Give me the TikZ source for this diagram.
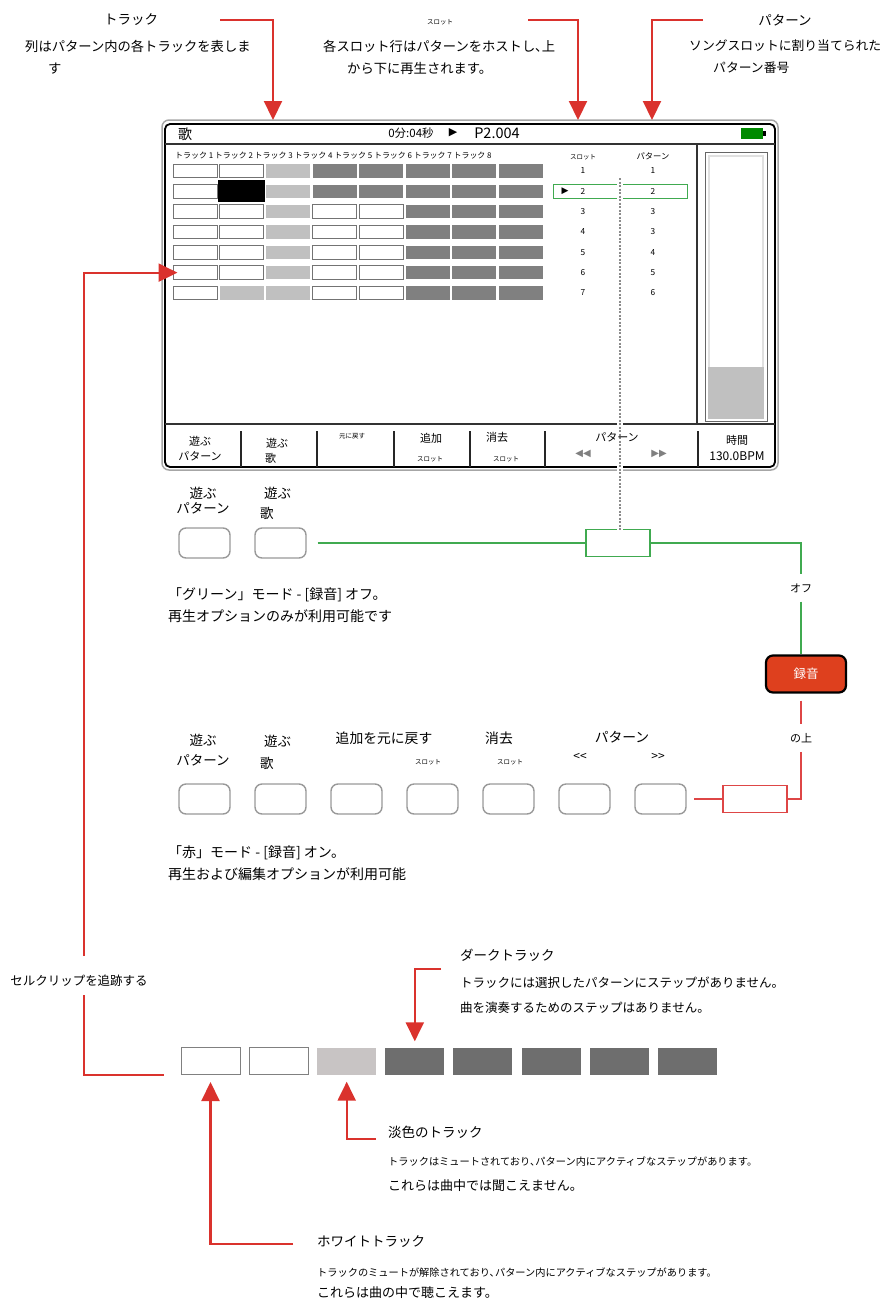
\documentclass[tikz,border=0pt]{standalone}
\usepackage{fontspec}
\setmainfont{Noto Sans CJK JP}
\newfontfamily\symfont{DejaVu Sans}
\definecolor{callred}{RGB}{218,50,45}
\definecolor{boxred}{RGB}{222,70,70}
\definecolor{modegreen}{RGB}{64,170,80}
\definecolor{recfill}{RGB}{222,64,30}
\definecolor{battgreen}{RGB}{0,138,0}
\definecolor{tlight}{RGB}{192,192,192}
\definecolor{tdark}{RGB}{128,128,128}
\definecolor{llight}{RGB}{200,196,196}
\definecolor{ldark}{RGB}{110,110,110}
\usetikzlibrary{arrows.meta,positioning}

\begin{document}
\begin{tikzpicture}[
  x=1pt,y=-1pt,
  every node/.style={inner sep=0pt,font=\fontsize{12.5}{22}\selectfont},
  title/.style={font=\fontsize{13.5}{16}\selectfont},
  note/.style={align=left,anchor=west,font=\fontsize{13.3}{22}\selectfont},
  modenote/.style={align=left,anchor=west,font=\fontsize{14}{22}\selectfont},
  modelbl/.style={font=\fontsize{13.8}{16}\selectfont},
  small/.style={font=\fontsize{10.2}{12}\selectfont},
  tiny/.style={font=\fontsize{6.5}{8}\selectfont},
  keyfont/.style={font=\fontsize{11}{15}\selectfont},
  numfont/.style={font=\fontsize{8.3}{10}\selectfont},
  callout/.style={draw=callred,line width=2.2pt,-{Triangle[width=18pt,length=19pt]}},
  callline/.style={draw=callred,line width=2.2pt},
  gline/.style={draw=modegreen,line width=1.6pt},
  rline/.style={draw=boxred,line width=1.6pt},
  tw/.style={draw=black!55,line width=1pt,fill=white,minimum width=44pt,minimum height=13.5pt},
  tl/.style={fill=tlight,minimum width=44pt,minimum height=13.5pt},
  td/.style={fill=tdark,minimum width=44pt,minimum height=13.5pt},
  tb/.style={fill=black,minimum width=47pt,minimum height=22pt},
  legw/.style={draw=black!50,line width=1pt,fill=white,minimum width=59pt,minimum height=27pt},
  legl/.style={fill=llight,minimum width=59pt,minimum height=27pt},
  legd/.style={fill=ldark,minimum width=59pt,minimum height=27pt},
  modebtn/.style={draw=black!40,line width=1.4pt,rounded corners=7pt,fill=white,
                  minimum width=51pt,minimum height=30pt},
  modebox/.style={line width=1.5pt,fill=white,minimum width=64pt,minimum height=27pt},
  recbtn/.style={draw=black,line width=2.2pt,rounded corners=7pt,fill=recfill,text=white,
                 minimum width=80pt,minimum height=37pt},
]
  \useasboundingbox (0,0) rectangle (886,1302);

  % Top callouts
  \node[title] (lblTrack) at (131,20) {トラック};
  \node[note] (txtTrack) at (25,57) {列はパターン内の各トラックを表しま\\\hspace*{23pt}す};
  \node[tiny] (lblSlot) at (440,22) {スロット};
  \node[note] (txtSlot) at (323,57) {各スロット行はパターンをホストし､上\\\hspace*{24pt}から下に再生されます。};
  \node[title] (lblPat) at (785,20) {パターン};
  \node[note,font=\fontsize{12.8}{22}\selectfont] (txtPat) at (689,57) {ソングスロットに割り当てられた\\\hspace*{24pt}パターン番号};
  \coordinate (trkStart) at (220,20);
  \coordinate (trkTip) at (273,120);
  \coordinate (slotStart) at (528,20);
  \coordinate (slotTip) at (578,120);
  \coordinate (patStart) at (703,20);
  \coordinate (patTip) at (652,120);

  % Device frame
  \draw[black!35,line width=1.5pt,rounded corners=7pt] (162,120) rectangle (778,470);
  \draw[black,line width=1.8pt,rounded corners=5pt] (165,124) rectangle (775,467);
  \draw[black!80,line width=1.6pt] (165,144) -- (775,144);
  \draw[black!80,line width=2pt] (165,424) -- (775,424);
  \draw[black!80,line width=1.5pt] (697,144) -- (697,424);
  \foreach \x in {241,317,394,470,545,698}
    \draw[black!85,line width=1.3pt] (\x,431) -- (\x,467);
  \draw[black!60,line width=1pt] (705,152) rectangle (767,421);
  \draw[black!12,line width=2pt] (709,156) rectangle (763,417);
  \fill[tlight] (708,367) rectangle (764,419);
  \fill[battgreen] (741,128) rectangle (763,139);
  \fill (763,131) rectangle (766,136);

  % Track cells
  \foreach \pat [count=\r] in {
      {tw,tw,tl,td,td,td,td,td},
      {tw,tb,tl,td,td,td,td,td},
      {tw,tw,tl,tw,tw,td,td,td},
      {tw,tw,tl,tw,tw,td,td,td},
      {tw,tw,tl,tw,tw,td,td,td},
      {tw,tw,tl,tw,tw,td,td,td},
      {tw,tl,tl,tw,tw,td,td,td}}
    \foreach \s [count=\c] in \pat
      \node[\s] (cell\r-\c) at ({195+46.5*(\c-1)},{171+20.33*(\r-1)}) {};
  \node[draw=modegreen,line width=1pt,minimum width=134pt,minimum height=14pt] (slotSel) at (620,191.3) {};

  % Green mode row
  \node[modebtn] (gPlayPat) at (204.5,543) {};
  \node[modebtn] (gPlaySong) at (280.5,543) {};
  \node[modebox,draw=modegreen] (gBox) at (618,543) {};

  % Dotted guide
  \draw[white,line width=6pt] (620,178) -- (620,531);
  \draw[black!45,line width=1.4pt,dash pattern=on 2pt off 1.5pt] (620,178) -- (620,530);

  % Device texts
  \node[font=\fontsize{14}{16}\selectfont] (devSong) at (185,134) {歌};
  \node[font=\fontsize{11.5}{14}\selectfont] (devTime) at (411,133) {0分:04秒};
  \node[font=\symfont\fontsize{11}{14}\selectfont] (devPlay) at (453,133) {▶};
  \node[font=\fontsize{14.5}{16}\selectfont] (devPos) at (497,133) {P2.004};
  \node[anchor=west,font=\fontsize{7.95}{9}\selectfont] (trkHead) at (175,156)
    {トラック 1 トラック 2 トラック 3 トラック 4 トラック 5 トラック 6 トラック 7 トラック 8};
  \node[tiny] (slotHead) at (583,157) {スロット};
  \node[numfont] (patHead) at (653,156) {パターン};
  \foreach \p [count=\r] in {1,2,3,3,4,5,6} {
    \node[numfont] (slot\r) at (583,{171+20.33*(\r-1)}) {\r};
    \node[numfont] (pat\r) at (653,{171+20.33*(\r-1)}) {\p};
  }
  \node[font=\symfont\fontsize{9}{10}\selectfont] (selPlay) at (565,191) {▶};

  % Toolbar
  \node[keyfont,align=center] (tbPlayPat) at (200,448.5) {遊ぶ\\パターン};
  \node[keyfont,align=left,anchor=west] (tbPlaySong) at (265,451) {\hspace*{1pt}遊ぶ\\歌};
  \node[tiny] (tbUndo) at (352,436) {元に戻す};
  \node[keyfont] (tbAdd) at (431,438) {追加};
  \node[tiny] (tbAddSlot) at (430,459) {スロット};
  \node[keyfont] (tbClear) at (497,437) {消去};
  \node[tiny] (tbClearSlot) at (506,459) {スロット};
  \node[keyfont] (tbPat) at (617,437) {パターン};
  \node[font=\symfont\fontsize{10}{12}\selectfont,text=black!50] (tbPrev) at (583,454) {◀◀};
  \node[font=\symfont\fontsize{10}{12}\selectfont,text=black!50] (tbNext) at (659,454) {▶▶};
  \node[keyfont,align=center] (tbTime) at (737,440) {時間};
  \node[font=\fontsize{12}{15}\selectfont] (tbTempo) at (737,456) {130.0BPM};

  % Green mode labels and line
  \node[align=center,font=\fontsize{13.5}{15.5}\selectfont] (gLblPat) at (203,500.5) {遊ぶ\\パターン};
  \node[align=left,anchor=west,font=\fontsize{13.5}{20}\selectfont] (gLblSong) at (260,503) {\hspace*{4pt}遊ぶ\\歌};
  \node[keyfont,inner ysep=9pt] (lblOff) at (801,588) {オフ};
  \node[recbtn] (btnRec) at (806,674) {録音};
  \draw[gline,shorten <=11pt] (gPlaySong.east) -- (gBox.west);
  \draw[gline] (gBox.east) -| (lblOff.north);
  \draw[gline] (lblOff.south) -- (lblOff.south |- btnRec.north);
  \node[modenote] (gDesc) at (168,605) {「グリーン」モード - [録音] オフ。\\再生オプションのみが利用可能です};

  % Red mode row
  \foreach \k in {1,...,7}
    \node[modebtn] (rBtn\k) at ({204.5+76*(\k-1)},799) {};
  \node[modebox,draw=boxred] (rBox) at (755,799) {};
  \node[keyfont,inner ysep=9pt] (lblOn) at (801,738) {の上};
  \draw[rline,shorten <=7pt] (lblOn.north |- btnRec.south) -- (lblOn.north);
  \draw[rline] (lblOn.south) |- (rBox.east);
  \draw[rline,shorten >=7pt] (rBox.west) -- (rBtn7.east);
  \node[align=center,font=\fontsize{13.5}{20}\selectfont] (rLblPat) at (203,750) {遊ぶ\\パターン};
  \node[align=left,anchor=west,font=\fontsize{13.5}{22}\selectfont] (rLblSong) at (260,752) {\hspace*{4pt}遊ぶ\\歌};
  \node[modelbl] (rLblUndo) at (384,738) {追加を元に戻す};
  \node[tiny] (rLblAddSlot) at (428,762) {スロット};
  \node[modelbl] (rLblClear) at (499,738) {消去};
  \node[tiny] (rLblClearSlot) at (510,762) {スロット};
  \node[modelbl] (rLblPatNav) at (622,737) {パターン};
  \node[font=\fontsize{12}{14}\selectfont] (rLblPrev) at (580,757) {<{}<};
  \node[font=\fontsize{12}{14}\selectfont] (rLblNext) at (658,757) {>{}>};
  \node[modenote] (rDesc) at (168,863.5) {「赤」モード - [録音] オン。\\再生および編集オプションが利用可能};

  % Legend strip
  \foreach \s [count=\c] in {legw,legw,legl,legd,legd,legd,legd,legd}
    \node[\s] (leg\c) at ({210.5+68.1*(\c-1)},1061) {};
  \node[title,anchor=west] (lblDark) at (460,955) {ダークトラック};
  \node[align=left,anchor=west,font=\fontsize{12.5}{25}\selectfont] (txtDark) at (460,995.5)
    {トラックには選択したパターンにステップがありません。\\曲を演奏するためのステップはありません。};
  \node[font=\fontsize{12.5}{16}\selectfont] (lblClip) at (79,981) {セルクリップを追跡する};
  \node[title,anchor=west] (lblLight) at (388,1132) {淡色のトラック};
  \node[small,anchor=west] (txtLightA) at (388,1162) {トラックはミュートされており､パターン内にアクティブなステップがあります。};
  \node[anchor=west,font=\fontsize{13}{16}\selectfont] (txtLightB) at (388,1186) {これらは曲中では聞こえません。};
  \node[title,anchor=west] (lblWhite) at (317,1242) {ホワイトトラック};
  \node[small,anchor=west] (txtWhiteA) at (317,1273) {トラックのミュートが解除されており､パターン内にアクティブなステップがあります。};
  \node[anchor=west,font=\fontsize{13}{16}\selectfont] (txtWhiteB) at (317,1293) {これらは曲の中で聴こえます。};
  \coordinate (darkStart) at (441,969);
  \coordinate (lightStart) at (376,1139);
  \coordinate (whiteStart) at (293,1244);

  % Callout arrows
  \draw[callout] (trkStart) -| (trkTip);
  \draw[callout] (slotStart) -| (slotTip);
  \draw[callout] (patStart) -| (patTip);
  \draw[callline] ([xshift=-17pt]leg1.south west) -| ([xshift=5pt,yshift=-8pt]lblClip.south);
  \draw[callout] ([xshift=5pt,yshift=19pt]lblClip.north) |- ([xshift=5pt]cell6-1.west);
  \draw[callout] (darkStart) -| ([yshift=6pt]leg4.north);
  \draw[callout] (lightStart) -| ([yshift=-7pt]leg3.south);
  \draw[callout] (whiteStart) -| ([yshift=-7pt]leg1.south);
\end{tikzpicture}
\end{document}
